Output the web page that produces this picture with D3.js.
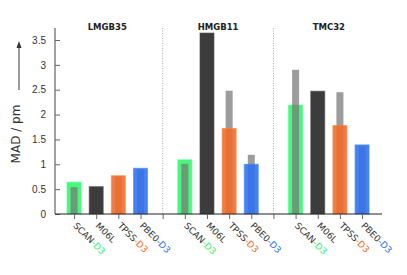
<!DOCTYPE html>
<html>
<head>
<meta charset="utf-8">
<script src="https://cdn.jsdelivr.net/npm/d3@7"></script>
<style>
  body { margin: 0; background: #fff; }
  svg { display: block; font-family: 'DejaVu Sans', sans-serif; }
</style>
</head>
<body>
<svg id="chart" width="407" height="275"></svg>
<script>
const groups = ['LMGB35', 'HMGB11', 'TMC32']
const methods = ['SCAN', 'M06L', 'TPSS', 'PBE0']
const suffixes = ['-D3', '', '-D3', '-D3']
const methodColors = ['#33f56a', '#3c3c3c', '#f06a28', '#2f6ff0']

// D3-corrected (or plain for M06L) values, one array per group
const withD3 = [
  [0.64, 0.55, 0.77, 0.92],
  [1.09, 3.64, 1.72, 1.00],
  [2.19, 2.47, 1.78, 1.39]
]
// uncorrected values (null where there is none)
const withoutD3 = [
  [0.54, null, 0.75, 0.90],
  [1.01, null, 2.48, 1.19],
  [2.90, null, 2.45, 1.36]
]
const yTicks = [0, 0.5, 1, 1.5, 2, 2.5, 3, 3.5]

const svg = d3.select('#chart')
const margins = { top: 28, left: 55, bottom: 61, right: 25 }
const height = 275 - margins.top - margins.bottom

// slots: 4 methods per group, one empty slot between groups
const bars = []
groups.forEach((g, gi) => {
  methods.forEach((m, mi) => {
    bars.push({ group: g, gi, mi, slot: gi * 5 + mi, value: withD3[gi][mi], plain: withoutD3[gi][mi] })
  })
})
const seps = [4, 9]

const x = d3.scaleLinear().domain([-0.86, 13.9]).range([55, 382])
const y = d3.scaleLinear().domain([0, 3.5]).range([214, 40])

const bw = 14
const nw = 7

// separators
svg.selectAll('.sep')
  .data(seps)
  .enter()
  .append('line')
  .attr('x1', (d) => x(d)).attr('x2', (d) => x(d))
  .attr('y1', 28).attr('y2', 214)
  .attr('stroke', '#999')
  .attr('stroke-width', 0.8)
  .attr('stroke-dasharray', '1,1.5')

// gray bars behind (TPSS, PBE0)
svg.selectAll('.plain-back')
  .data(bars.filter((d) => d.plain !== null && d.mi !== 0))
  .enter()
  .append('rect')
  .attr('x', (d) => x(d.slot) - nw / 2)
  .attr('y', (d) => y(d.plain))
  .attr('width', nw)
  .attr('height', (d) => y(0) - y(d.plain))
  .attr('fill', '#9c9c9c')

// main bars
svg.selectAll('.bar')
  .data(bars)
  .enter()
  .append('rect')
  .attr('x', (d) => x(d.slot) - bw / 2)
  .attr('y', (d) => y(d.value))
  .attr('width', bw)
  .attr('height', (d) => y(0) - y(d.value))
  .attr('fill', (d) => methodColors[d.mi])
  .attr('fill-opacity', (d) => d.mi === 1 ? 1 : 0.88)
  .attr('stroke', (d) => d3.color(methodColors[d.mi]).brighter(0.6))
  .attr('stroke-opacity', 0.6)
  .attr('stroke-width', 1)

// gray bars on top (SCAN)
svg.selectAll('.plain-front')
  .data(bars.filter((d) => d.plain !== null && d.mi === 0))
  .enter()
  .append('rect')
  .attr('x', (d) => x(d.slot) - nw / 2)
  .attr('y', (d) => y(d.plain))
  .attr('width', nw)
  .attr('height', (d) => y(0) - y(d.plain))
  .attr('fill', '#777')
  .attr('fill-opacity', 0.72)

// y axis
const yAxis = svg.append('g')
  .attr('transform', `translate(55,0)`)
  .call(d3.axisRight(y).tickValues(yTicks).tickSize(5).tickFormat(d3.format('')))
yAxis.select('.domain').attr('d', `M0,28V214`).attr('stroke', '#444')
yAxis.selectAll('.tick line').attr('stroke', '#666')
yAxis.selectAll('.tick text')
  .attr('x', -9)
  .attr('text-anchor', 'end')
  .attr('fill', '#333')
  .style('font-size', '10px')

// x axis
const slots = d3.range(14)
const xAxis = svg.append('g')
  .attr('transform', `translate(0,214)`)
  .call(d3.axisBottom(x).tickValues(slots).tickSize(5).tickFormat(''))
xAxis.select('.domain').attr('d', 'M55,0H382').attr('stroke', '#222').attr('stroke-width', 1.2)
xAxis.selectAll('.tick line').attr('stroke', '#666')

const labels = svg.append('g')
  .selectAll('text')
  .data(bars)
  .enter()
  .append('text')
  .attr('transform', (d) => `translate(${x(d.slot) + 1},${224}) rotate(45)`)
  .attr('text-anchor', 'start')
  .attr('dy', '0.35em')
  .style('font-size', '9px')
  .attr('fill', '#333')
labels.append('tspan').text((d) => methods[d.mi])
labels.append('tspan').text((d) => suffixes[d.mi]).attr('fill', (d) => methodColors[d.mi])

// group titles
svg.selectAll('.gtitle')
  .data(groups)
  .enter()
  .append('text')
  .attr('x', (d, i) => x(i * 5 + 1.5))
  .attr('y', 30)
  .attr('text-anchor', 'middle')
  .style('font-size', '8.5px')
  .style('font-weight', 'bold')
  .attr('fill', '#222')
  .text((d) => d)

// y label and arrow
svg.append('text')
  .attr('transform', 'translate(20,134) rotate(-90)')
  .attr('text-anchor', 'middle')
  .style('font-size', '12px')
  .attr('fill', '#333')
  .text('MAD / pm')
svg.append('line')
  .attr('x1', 19).attr('x2', 19)
  .attr('y1', 90).attr('y2', 46)
  .attr('stroke', '#333').attr('stroke-width', 1)
svg.append('path')
  .attr('d', 'M19,41 L16.5,48 L21.5,48 Z')
  .attr('fill', '#333')
</script>
</body>
</html>
